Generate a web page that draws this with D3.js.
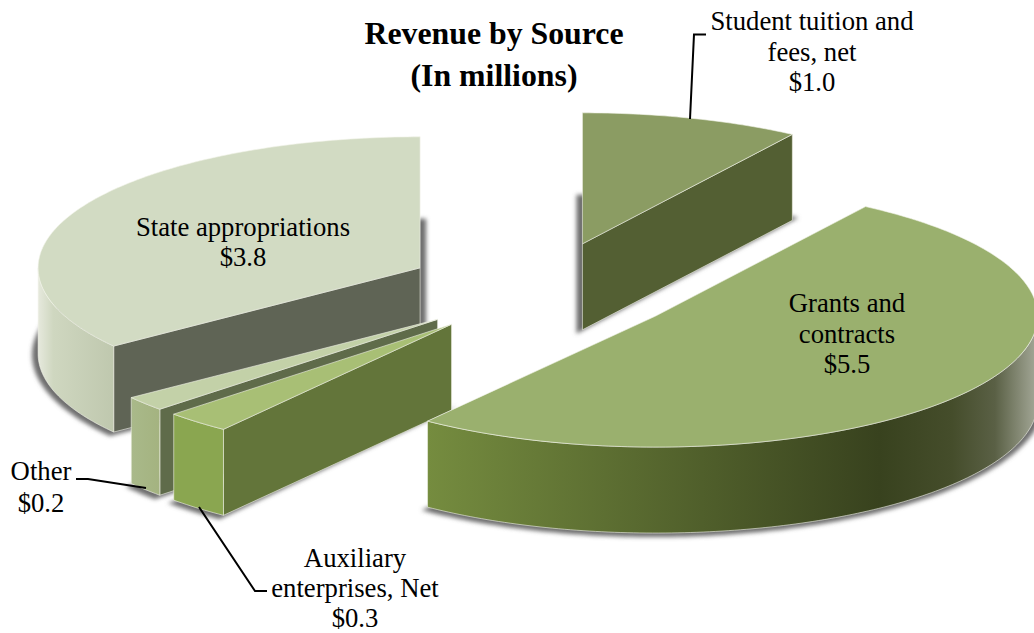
<!DOCTYPE html>
<html lang="en">
<head>
	<meta charset="UTF-8">
	<title>Revenue by Source</title>
	<script src="https://d3js.org/d3.v7.min.js"></script>
	<style>
		body {margin: 0; background: white;}
		svg {display: block;}
		text {font-family: "Liberation Serif", serif; fill: black;}
	</style>
</head>
<body>
	<div id="myDiv"></div>
<script>
	// data (in millions)
	const categories = ["Student tuition and fees, net", "Grants and contracts", "Auxiliary enterprises, Net", "Other", "State appropriations"];
	const values = [1.0, 5.5, 0.3, 0.2, 3.8];
	const labelLines = [
		["Student tuition and", "fees, net"],
		["Grants and", "contracts"],
		["Auxiliary", "enterprises, Net"],
		["Other"],
		["State appropriations"]
	];
	const titleLines = ["Revenue by Source", "(In millions)"];

	// styles, same order as categories
	const topColors = ["#8b9c63", "#9ab06e", "#a8bf75", "#c3d1a8", "#d2dbc3"];
	const sideColors = ["#535f33", "#3a431f", "#63753a", "#5f6b4a", "#5f6455"];
	const wallStops = [
		[[0, "#6d7d47"], [1, "#6d7d47"]],
		[[0, "#758c3f"], [0.74, "#38421e"], [0.86, "#454d2b"], [0.93, "#5a6045"], [1, "#a5a999"]],
		[[0, "#8aa650"], [1, "#8aa650"]],
		[[0, "#a9b98a"], [1, "#a4b380"]],
		[[0, "#e6e9dd"], [0.2, "#cfd7c0"], [1, "#bfc8ae"]]
	];
	const drawOrder = [4, 3, 2, 0, 1];

	// layout
	const width = 1034, height = 633;
	const cx = 543, cy = 289;
	const rx = 382, ry = 131, depth = 86;
	const explode = 0.36;
	const labelX = [812, 847, 355, 41, 243];
	const labelY = [30, 312, 567, 480, 236];
	const labelStep = [30.5, 30.5, 30, 32, 30];
	const leaders = [
		[[706, 34.5], [694, 34.5], [690, 119]],
		null,
		[[199, 507], [255, 591], [267, 591]],
		[[146, 488], [88, 479], [76, 479]],
		null
	];

	let svgContainer = d3.select("#myDiv").append("svg")
		.attr("width", width)
		.attr("height", height);

	let defs = svgContainer.append("defs");
	defs.append("filter").attr("id", "soft")
		.attr("x", "-10%").attr("y", "-10%").attr("width", "120%").attr("height", "120%")
		.append("feGaussianBlur").attr("stdDeviation", 2);

	let slices = d3.pie().sort(null).startAngle(0).endAngle(2 * Math.PI)(values);
	let line = d3.line();

	function centerOf(s) {
		let mid = (s.startAngle + s.endAngle) / 2;
		return [cx + explode * rx * Math.sin(mid), cy - explode * ry * Math.cos(mid)];
	}
	function rimPoint(c, a, dy) {
		return [c[0] + rx * Math.sin(a), c[1] - ry * Math.cos(a) + dy];
	}
	function rim(c, a0, a1, dy) {
		let n = Math.max(2, Math.ceil((a1 - a0) * 60));
		return d3.range(n + 1).map(function(i){
			return rimPoint(c, a0 + (a1 - a0) * i / n, dy);
		});
	}
	function sector(c, s, dy) {
		return line([[c[0], c[1] + dy]].concat(rim(c, s.startAngle, s.endAngle, dy))) + "Z";
	}

	function face(g, d, fill) {
		return g.append("path")
			.attr("d", d)
			.attr("fill", fill)
			.attr("stroke", "#f1f3ea")
			.attr("stroke-opacity", 0.75)
			.attr("stroke-width", 0.8)
			.attr("stroke-linejoin", "round");
	}

	drawOrder.forEach(function(i){
		let s = slices[i], c = centerOf(s);
		let g = svgContainer.append("g").attr("class", "slice");

		// soft shadow under the slice
		let shadow = g.append("path")
			.attr("d", sector(c, s, depth))
			.attr("fill", "#6e6e6e")
			.attr("filter", "url(#soft)");
		let box = shadow.node().getBBox();
		let bx = box.x + box.width / 2, by = box.y + box.height / 2;
		let sx = 1 + 12 / box.width, sy = 1 + 8 / box.height;
		shadow.attr("transform", "translate(" + bx + "," + by + ") scale(" + sx + "," + sy + ") translate(" + (-bx) + "," + (-by) + ")");

		// flat side walls that face the viewer
		if (Math.sin(s.startAngle) < -0.001) {
			let p = rimPoint(c, s.startAngle, 0);
			face(g, line([c, p, [p[0], p[1] + depth], [c[0], c[1] + depth]]) + "Z", sideColors[i]);
		}
		if (Math.sin(s.endAngle) > 0.001) {
			let p = rimPoint(c, s.endAngle, 0);
			face(g, line([c, p, [p[0], p[1] + depth], [c[0], c[1] + depth]]) + "Z", sideColors[i]);
		}

		// curved outer wall, front half of the ellipse only
		let a0 = Math.max(s.startAngle, Math.PI / 2), a1 = Math.min(s.endAngle, 3 * Math.PI / 2);
		if (a1 > a0) {
			let upper = rim(c, a0, a1, 0), lower = rim(c, a0, a1, depth).reverse();
			let xs = d3.extent(upper, function(p){ return p[0]; });
			let grad = defs.append("linearGradient")
				.attr("id", "wall" + i)
				.attr("gradientUnits", "userSpaceOnUse")
				.attr("x1", xs[0]).attr("x2", xs[1]).attr("y1", 0).attr("y2", 0);
			grad.selectAll("stop").data(wallStops[i]).enter().append("stop")
				.attr("offset", function(d){ return d[0]; })
				.attr("stop-color", function(d){ return d[1]; });
			face(g, line(upper.concat(lower)) + "Z", "url(#wall" + i + ")");
		}

		face(g, sector(c, s, 0), topColors[i]);
	});

	// leader lines
	svgContainer.selectAll(".leader")
		.data(leaders.filter(function(d){ return d; }))
		.enter().append("path")
			.attr("class", "leader")
			.attr("d", line)
			.attr("fill", "none")
			.attr("stroke", "black")
			.attr("stroke-width", 2);

	// slice labels
	let money = d3.format("$.1f");
	let labels = svgContainer.selectAll(".label")
		.data(categories)
		.enter().append("text")
			.attr("class", "label")
			.attr("text-anchor", "middle")
			.attr("font-size", "26.7px");
	labels.selectAll("tspan")
		.data(function(d, i){
			return labelLines[i].concat(money(values[i])).map(function(t, k){
				return {t: t, x: labelX[i], y: labelY[i] + k * labelStep[i]};
			});
		})
		.enter().append("tspan")
			.attr("x", function(d){ return d.x; })
			.attr("y", function(d){ return d.y; })
			.text(function(d){ return d.t; });

	// title
	svgContainer.selectAll(".title")
		.data(titleLines)
		.enter().append("text")
			.attr("class", "title")
			.attr("x", 494)
			.attr("y", function(d, i){ return 44 + i * 41.5; })
			.attr("text-anchor", "middle")
			.attr("font-size", "31.8px")
			.attr("font-weight", "bold")
			.text(function(d){ return d; });
</script>
</body>
</html>
